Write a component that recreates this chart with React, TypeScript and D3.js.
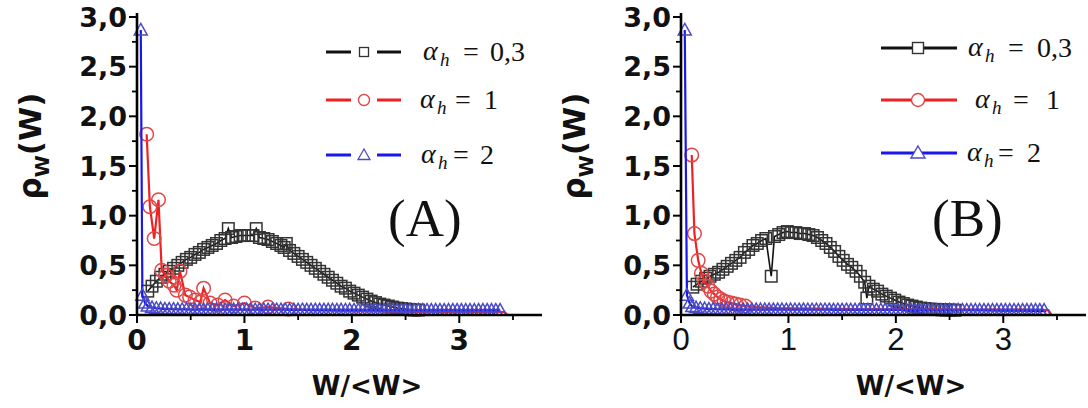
import React from "react";
import * as d3 from "d3";

// ---------- axis ticks ----------
const xTicks = [0, 1, 2, 3];
const xMinor = [0.5, 1.5, 2.5, 3.5];
const yTicks = [0, 0.5, 1, 1.5, 2, 2.5, 3];
const yTickLabels = ["0,0", "0,5", "1,0", "1,5", "2,0", "2,5", "3,0"];
const yMinor = [0.25, 0.75, 1.25, 1.75, 2.25, 2.75];

// ---------- panel A data ----------
const blackAX = [0.10,0.14,0.18,0.22,0.26,0.30,0.34,0.38,0.42,0.46,0.50,0.54,0.58,0.62,0.66,0.70,0.74,0.78,0.82,
  0.85,0.88,0.92,0.96,1.00,1.04,1.08,1.11,1.14,1.18,1.22,1.26,1.30,1.34,1.37,1.39,
  1.42,1.46,1.50,1.54,1.58,1.62,1.66,1.70,1.74,1.78,1.82,1.86,1.90,1.94,1.98,2.02,2.06,2.10,2.14,2.18,2.22,2.26,2.30,2.34,2.38,2.42,2.46,2.50,2.54,2.58,2.62];
const blackAY = [0.24,0.29,0.34,0.38,0.41,0.44,0.47,0.50,0.53,0.56,0.58,0.61,0.63,0.66,0.68,0.70,0.72,0.75,0.77,
  0.87,0.78,0.79,0.80,0.80,0.80,0.80,0.87,0.78,0.77,0.76,0.74,0.72,0.70,0.68,0.72,
  0.65,0.62,0.59,0.56,0.53,0.50,0.47,0.44,0.41,0.38,0.35,0.32,0.29,0.27,0.24,0.22,0.20,0.18,0.16,0.14,0.125,0.11,0.10,0.09,0.08,0.07,0.065,0.06,0.055,0.05,0.05];
const blackTailAX = [2.62, 2.8, 3.0, 3.2, 3.4];
const blackTailAY = [0.05, 0.045, 0.04, 0.035, 0.03];

const redAX = [0.09,0.12,0.16,0.20,0.23,0.27,0.30,0.345,0.37,0.40,0.45,0.49,0.54,0.59,0.62,0.68,0.75,0.82,0.90,1.00,1.10,1.22,1.41];
const redAY = [1.82,1.09,0.77,1.16,0.45,0.40,0.34,0.30,0.25,0.44,0.20,0.18,0.15,0.13,0.27,0.12,0.10,0.15,0.09,0.12,0.07,0.08,0.06];
const redTailAX = [1.41, 1.6, 1.8, 2.0, 2.4, 2.8, 3.2, 3.42, 3.45];
const redTailAY = [0.06, 0.05, 0.045, 0.04, 0.035, 0.03, 0.03, 0.03, 0.0];

const blueHeadAX = [0.035, 0.05, 0.075, 0.10];
const blueHeadAY = [2.87, 0.20, 0.12, 0.09];

// shared tail grid of the blue triangles (both panels)
const blueTailX = [0.14,0.18,0.22,0.26,0.30,0.34,0.38,0.42,0.46,0.50,0.54,0.58,0.62,0.66,0.70,0.74,0.78,0.82,0.86,0.90,0.94,0.98,
  1.02,1.06,1.10,1.14,1.18,1.22,1.26,1.30,1.34,1.38,1.42,1.46,1.50,1.54,1.58,1.62,1.66,1.70,1.74,1.78,1.82,1.86,1.90,1.94,1.98,
  2.02,2.06,2.10,2.14,2.18,2.22,2.26,2.30,2.34,2.38,2.42,2.46,2.50,2.54,2.58,2.62,2.66,2.70,2.74,2.78,2.82,2.86,2.90,2.94,2.98,
  3.02,3.06,3.10,3.14,3.18,3.22,3.26,3.30,3.34,3.38];
const blueTailY = [0.075,0.068,0.064,0.06,0.06,0.058,0.057,0.056,0.056,0.055,
  0.055,0.055,0.054,0.055,0.054,0.054,0.055,0.054,0.054,0.054,
  0.054,0.053,0.054,0.053,0.053,0.054,0.053,0.053,0.053,0.053,
  0.053,0.053,0.052,0.053,0.052,0.053,0.052,0.052,0.052,0.052,
  0.052,0.052,0.052,0.051,0.052,0.051,0.052,0.051,0.051,0.051,
  0.051,0.051,0.051,0.05,0.051,0.05,0.05,0.05,0.05,0.05,
  0.05,0.05,0.05,0.05,0.05,0.05,0.05,0.05,0.05,0.05,
  0.05,0.05,0.05,0.05,0.05,0.05,0.05,0.05,0.05,0.05,
  0.05,0.05];

// ---------- panel B data ----------
const blackBX = [0.11,0.15,0.19,0.23,0.27,0.31,0.35,0.39,0.43,0.47,0.51,0.55,0.59,0.63,0.67,0.71,0.75,0.79,
  0.84,
  0.87,0.91,0.95,0.99,1.03,1.07,1.11,1.15,1.19,1.23,1.27,1.31,1.35,1.39,1.43,1.47,1.51,1.55,1.59,1.63,1.67,1.71,
  1.73,
  1.75,1.79,1.83,1.87,1.91,1.95,1.99,2.03,2.07,2.11,2.15,2.19,2.23,2.27,2.31,2.35,2.39,2.43,2.47,2.51,2.55];
const blackBY = [0.28,0.31,0.34,0.37,0.39,0.41,0.43,0.46,0.49,0.52,0.55,0.58,0.63,0.66,0.70,0.72,0.75,0.77,
  0.39,
  0.79,0.81,0.83,0.84,0.83,0.83,0.82,0.82,0.81,0.80,0.78,0.75,0.72,0.68,0.64,0.59,0.55,0.51,0.48,0.44,0.39,0.33,
  0.17,
  0.29,0.26,0.24,0.21,0.19,0.17,0.15,0.13,0.115,0.10,0.09,0.08,0.07,0.065,0.06,0.057,0.055,0.052,0.05,0.05,0.048];
const blackTailBX = [2.55, 2.8, 3.0, 3.2, 3.4];
const blackTailBY = [0.048, 0.045, 0.04, 0.04, 0.035];

const redBX = [0.10,0.125,0.16,0.19,0.22,0.25,0.28,0.31,0.34,0.37,0.40,0.43,0.47,0.51,0.55,0.60];
const redBY = [1.61,0.82,0.55,0.42,0.34,0.29,0.24,0.21,0.18,0.16,0.14,0.13,0.12,0.11,0.10,0.09];
const redTailBX = [0.60,0.7,0.8,0.9,1.0,1.2,1.4,1.6,1.8,2.0,2.4,2.8,3.2,3.42,3.45];
const redTailBY = [0.09,0.08,0.075,0.07,0.068,0.065,0.062,0.06,0.06,0.058,0.056,0.055,0.055,0.05,0.0];

const blueHeadBX = [0.035, 0.055, 0.08, 0.105];
const blueHeadBY = [2.87, 0.20, 0.12, 0.085];

// ---------- legend ----------
const legendLabels = ["0,3", "1", "2"];
const panelTags = ["(A)", "(B)"];

const COL_BLACK = "#111";
const COL_SQ = "#333";
const COL_RED = "#ee2222";
const COL_RED_M = "#e04848";
const COL_BLUE = "#1818ee";
const COL_BLUE_M = "#4a4ac8";

type Pt = [number, number];
const zip = (xs: number[], ys: number[]): Pt[] => xs.map((x, i) => [x, ys[i]]);

const SQ = 11.5;
const CR = 6.8;
const triPath = "M0,-6.5L6.5,5L-6.5,5Z";

function Marker({ kind, x, y, color, fill }: { kind: string; x: number; y: number; color: string; fill: string }) {
  if (kind === "square")
    return <rect x={x - SQ / 2} y={y - SQ / 2} width={SQ} height={SQ} fill={fill} stroke={color} strokeWidth={1.5} />;
  if (kind === "circle") return <circle cx={x} cy={y} r={CR} fill={fill} stroke={color} strokeWidth={1.5} />;
  return <path d={triPath} transform={`translate(${x},${y})`} fill={fill} stroke={color} strokeWidth={1.5} />;
}

interface Series {
  marks: Pt[];
  tail: Pt[];
  kind: string;
  line: string;
  mcol: string;
}

function Panel({ ox, series, legendStyle, tag, boldX, legendRows, tagX }: any) {
  const x = d3.scaleLinear().domain([0, 3.77]).range([ox, ox + 405]);
  const y = d3.scaleLinear().domain([0, 3]).range([315, 17]);
  const line = d3.line<Pt>().x((d) => x(d[0])).y((d) => y(d[1]));
  const y0 = y(0);

  return (
    <g>
      {/* data */}
      {series.map((s: Series, i: number) => (
        <g key={i}>
          <path d={line([...s.marks, ...s.tail.slice(1)]) || ""} fill="none" stroke={s.line} strokeWidth={s.kind === "square" ? 1.6 : 2.2} />
          {s.marks.map((p, j) => (
            <Marker key={j} kind={s.kind} x={x(p[0])} y={y(p[1])} color={s.mcol} fill="none" />
          ))}
        </g>
      ))}

      {/* axes */}
      <line x1={ox} x2={ox} y1={y0 + 1} y2={y(3) - 4} stroke="#000" strokeWidth={2.6} />
      <line x1={ox - 1} x2={x(3.77)} y1={y0} y2={y0} stroke="#000" strokeWidth={2.6} />
      {yTicks.map((t, i) => (
        <g key={"yt" + i}>
          <line x1={ox - 8} x2={ox} y1={y(t)} y2={y(t)} stroke="#000" strokeWidth={2} />
          <text x={ox - 10} y={y(t)} dy="0.36em" textAnchor="end" fontFamily="'DejaVu Sans'" fontWeight="bold" fontSize={27} fill="#111">
            {yTickLabels[i]}
          </text>
        </g>
      ))}
      {yMinor.map((t, i) => (
        <line key={"ym" + i} x1={ox - 5} x2={ox} y1={y(t)} y2={y(t)} stroke="#000" strokeWidth={1.8} />
      ))}
      {xTicks.map((t, i) => (
        <g key={"xt" + i}>
          <line x1={x(t)} x2={x(t)} y1={y0} y2={y0 + 8} stroke="#000" strokeWidth={2} />
          <text x={x(t)} y={350} textAnchor="middle"
            fontFamily={boldX ? "'DejaVu Sans'" : "'Liberation Sans', Arial"}
            fontWeight={boldX ? "bold" : "normal"} fontSize={boldX ? 28 : 31} fill="#111">
            {String(t)}
          </text>
        </g>
      ))}
      {xMinor.map((t, i) => (
        <line key={"xm" + i} x1={x(t)} x2={x(t)} y1={y0} y2={y0 + 5} stroke="#000" strokeWidth={1.8} />
      ))}

      {/* axis titles */}
      <text x={ox + 230} y={395} textAnchor="middle" fontFamily="'DejaVu Sans'" fontWeight="bold" fontSize={26} fill="#111">
        W/&lt;W&gt;
      </text>
      <text transform={`translate(${ox - 96},146) rotate(-90)`} textAnchor="middle" fontFamily="'DejaVu Sans'" fontWeight="bold" fill="#111">
        <tspan fontSize={31}>ρ</tspan>
        <tspan fontSize={20} dy={8}>W</tspan>
        <tspan fontSize={31} dy={-8}>(W)</tspan>
      </text>

      {/* tag */}
      <text x={tagX} y={236} fontFamily="'Liberation Serif', 'Times New Roman', serif" fontSize={53} fill="#111">
        {tag}
      </text>

      {/* legend */}
      {legendRows.map((r: any, i: number) => {
        const s: Series = series[i];
        return (
          <g key={"lg" + i}>
            {legendStyle === "gap" ? (
              <>
                <line x1={r.l0} x2={r.l0 + 25} y1={r.y} y2={r.y} stroke={s.line} strokeWidth={3} />
                <line x1={r.l0 + 51} x2={r.l0 + 75} y1={r.y} y2={r.y} stroke={s.line} strokeWidth={3} />
                {s.kind === "square" ? (
                  <rect x={r.l0 + 38 - 4.5} y={r.y - 4.5} width={9} height={9} fill="#fff" stroke={s.mcol} strokeWidth={1.3} />
                ) : s.kind === "circle" ? (
                  <circle cx={r.l0 + 38} cy={r.y} r={5.5} fill="#fff" stroke={s.mcol} strokeWidth={1.4} />
                ) : (
                  <path d="M0,-6L6,4.5L-6,4.5Z" transform={`translate(${r.l0 + 38},${r.y})`} fill="#fff" stroke={s.mcol} strokeWidth={1.3} />
                )}
              </>
            ) : (
              <>
                <line x1={r.l0} x2={r.l0 + 76} y1={r.y} y2={r.y} stroke={s.line} strokeWidth={3} />
                {s.kind === "square" ? (
                  <rect x={r.l0 + 37 - 5.5} y={r.y - 5.5} width={11} height={11} fill="#fff" stroke={s.mcol} strokeWidth={1.4} />
                ) : s.kind === "circle" ? (
                  <circle cx={r.l0 + 37} cy={r.y} r={6.5} fill="#fff" stroke={s.mcol} strokeWidth={1.4} />
                ) : (
                  <path d="M0,-7L7,5L-7,5Z" transform={`translate(${r.l0 + 37},${r.y})`} fill="#fff" stroke={s.mcol} strokeWidth={1.4} />
                )}
              </>
            )}
            <g fontFamily="'Liberation Serif', 'Times New Roman', serif" fill="#111">
              <text x={r.a} y={r.y + 8} fontSize={28} fontStyle="italic">α</text>
              <text x={r.a + 17} y={r.y + 14} fontSize={19} fontStyle="italic">h</text>
              <text x={r.eq} y={r.y + 9} fontSize={28}>=</text>
              <text x={r.v} y={r.y + 9} fontSize={28}>{legendLabels[i]}</text>
            </g>
          </g>
        );
      })}
    </g>
  );
}

export default function App() {
  const seriesA: Series[] = [
    { marks: zip(blackAX, blackAY), tail: zip(blackTailAX, blackTailAY), kind: "square", line: COL_BLACK, mcol: COL_SQ },
    { marks: zip(redAX, redAY), tail: zip(redTailAX, redTailAY), kind: "circle", line: COL_RED, mcol: COL_RED_M },
    { marks: zip([...blueHeadAX, ...blueTailX], [...blueHeadAY, ...blueTailY]), tail: [], kind: "tri", line: COL_BLUE, mcol: COL_BLUE_M },
  ];
  const seriesB: Series[] = [
    { marks: zip(blackBX, blackBY), tail: zip(blackTailBX, blackTailBY), kind: "square", line: COL_BLACK, mcol: COL_SQ },
    { marks: zip(redBX, redBY), tail: zip(redTailBX, redTailBY), kind: "circle", line: COL_RED, mcol: COL_RED_M },
    { marks: zip([...blueHeadBX, ...blueTailX], [...blueHeadBY, ...blueTailY]), tail: [], kind: "tri", line: COL_BLUE, mcol: COL_BLUE_M },
  ];
  const legA = [
    { y: 52, l0: 326, a: 423, eq: 463, v: 490 },
    { y: 100, l0: 326, a: 420, eq: 455, v: 484 },
    { y: 155, l0: 326, a: 421, eq: 453, v: 480 },
  ];
  const legB = [
    { y: 48, l0: 881, a: 968, eq: 1008, v: 1037 },
    { y: 100, l0: 881, a: 975, eq: 1013, v: 1046 },
    { y: 153, l0: 881, a: 967, eq: 998, v: 1027 },
  ];
  return (
    <svg width={1088} height={408} style={{ position: "absolute", left: 0, top: 0, background: "#fff" }}>
      <rect width={1088} height={408} fill="#fff" />
      <Panel ox={137} series={seriesA} legendStyle="gap" tag={panelTags[0]} boldX={true} legendRows={legA} tagX={388} />
      <Panel ox={681} series={seriesB} legendStyle="through" tag={panelTags[1]} boldX={false} legendRows={legB} tagX={932} />
    </svg>
  );
}
